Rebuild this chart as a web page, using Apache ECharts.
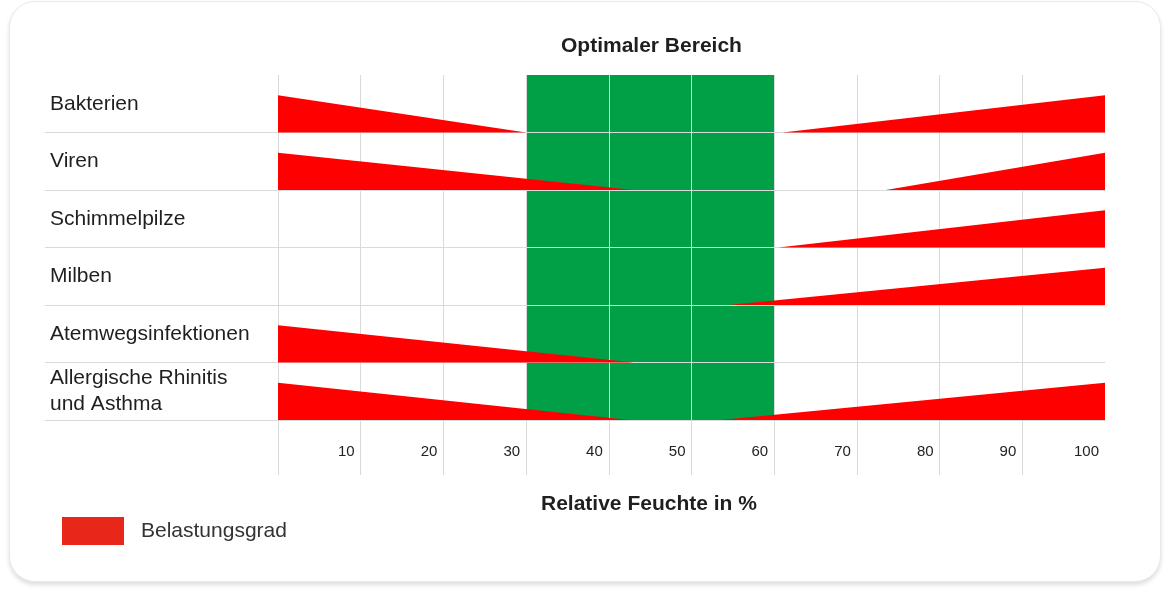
<!DOCTYPE html>
<html>
<head>
<meta charset="utf-8">
<script src="https://cdn.jsdelivr.net/npm/echarts@6/dist/echarts.min.js"></script>
<style>
  html, body { margin: 0; padding: 0; background: #ffffff; }
  #card { position: absolute; left: 9px; top: 1px; width: 1150px; height: 579px;
          border-radius: 26px; border: 1px solid #e9e9e9; background: #fff;
          box-shadow: 0 3px 4px rgba(0,0,0,0.13); }
  #chart { position: absolute; left: 0; top: 0; width: 1170px; height: 600px; }
</style>
</head>
<body>
<div id="card"></div>
<div id="chart"></div>
<script>
// ---- data ----
const rows = ['Bakterien', 'Viren', 'Schimmelpilze', 'Milben', 'Atemwegsinfektionen', 'Allergische Rhinitis\nund Asthma'];
const optimalRange = [30, 60];
// relative humidity (%) where the load from dry air drops to zero (null = none)
const lowLoadEnd = [30, 43, null, null, 43, 42.5];
// relative humidity (%) where the load from humid air starts (null = none)
const highLoadStart = [61, 73.5, 60.5, 54.5, null, 53.5];
const axisName = 'Relative Feuchte in %';
const optimalName = 'Optimaler Bereich';
const legendName = 'Belastungsgrad';

// build triangle items: [xFrom, xTo, rowIndex, loadAtFrom, loadAtTo]
const triangles = [];
rows.forEach((r, i) => {
  if (lowLoadEnd[i] != null) triangles.push([0, lowLoadEnd[i], i, 1, 0]);
  if (highLoadStart[i] != null) triangles.push([highLoadStart[i], 100, i, 0, 1]);
});

const FONT = "'Liberation Sans', Arial, Helvetica, sans-serif";
const GRID_COLOR = '#dadada';
const ROW_FILL = 0.65;

const chart = echarts.init(document.getElementById('chart'), null, { renderer: 'canvas' });
chart.setOption({
  backgroundColor: 'transparent',
  textStyle: { fontFamily: FONT },
  animation: false,
  title: [
    { text: optimalName, left: 561, top: 36, padding: 0,
      textStyle: { fontFamily: FONT, fontSize: 21, fontWeight: 'bold', color: '#1f1f1f' } },
    { text: axisName, left: 541, top: 494, padding: 0,
      textStyle: { fontFamily: FONT, fontSize: 21, fontWeight: 'bold', color: '#1f1f1f' } }
  ],
  legend: {
    left: 62, top: 517, padding: 0, icon: 'rect', itemWidth: 62, itemHeight: 28,
    data: [{ name: legendName, itemStyle: { color: '#e9261a' } }],
    textStyle: { fontFamily: FONT, fontSize: 21, color: '#333', padding: [7, 0, 0, 12] }
  },
  grid: [
    { left: 45, right: 65, top: 75, height: 345 },
    { left: 278, right: 65, top: 75, height: 345 },
    { left: 278, right: 65, top: 420, height: 55 }
  ],
  xAxis: [
    { type: 'value', gridIndex: 0, show: false, min: 0, max: 1 },
    { type: 'value', gridIndex: 1, min: 0, max: 100, interval: 10,
      axisLine: { show: false }, axisTick: { show: false },
      splitLine: { show: true, showMaxLine: false, lineStyle: { color: GRID_COLOR, width: 1 } },
      axisLabel: { showMinLabel: false, align: 'right', padding: [0, 6, 0, 0], margin: 24,
                   fontFamily: FONT, fontSize: 15, color: '#222' } },
    { type: 'value', gridIndex: 2, min: 0, max: 100, interval: 10,
      axisLine: { show: false }, axisTick: { show: false }, axisLabel: { show: false },
      splitLine: { show: true, showMaxLine: false, lineStyle: { color: GRID_COLOR, width: 1 } } }
  ],
  yAxis: [
    { type: 'category', gridIndex: 0, data: rows, inverse: true,
      axisLine: { show: false }, axisTick: { show: false }, splitLine: { show: false },
      axisLabel: { inside: true, margin: 5, fontFamily: FONT, fontSize: 21, lineHeight: 26, color: '#1f1f1f' } },
    { type: 'value', gridIndex: 0, min: 0, max: 6, interval: 1, inverse: true,
      axisLine: { show: false }, axisTick: { show: false }, axisLabel: { show: false },
      splitLine: { show: true, showMinLine: false, lineStyle: { color: GRID_COLOR, width: 1 } } },
    { type: 'value', gridIndex: 1, min: 0, max: 6, inverse: true, show: false },
    { type: 'value', gridIndex: 2, min: 0, max: 1, show: false }
  ],
  series: [
    {
      type: 'custom', name: optimalName, xAxisIndex: 1, yAxisIndex: 2, z: -1,
      data: [optimalRange],
      encode: { x: [0, 1] },
      renderItem: function (params, api) {
        const p0 = api.coord([api.value(0), 0]);
        const p1 = api.coord([api.value(1), 6]);
        return { type: 'rect', shape: { x: p0[0], y: p0[1], width: p1[0] - p0[0], height: p1[1] - p0[1] },
                 style: { fill: '#01a046' } };
      }
    },
    {
      type: 'custom', name: legendName, xAxisIndex: 1, yAxisIndex: 2, z: 5,
      itemStyle: { color: '#ff0000' },
      data: triangles,
      encode: { x: [0, 1], y: 2 },
      renderItem: function (params, api) {
        const x0 = api.value(0), x1 = api.value(1), r = api.value(2);
        const l0 = api.value(3), l1 = api.value(4);
        const base = r + 1;
        const pts = [
          api.coord([x0, base]),
          api.coord([x1, base]),
          api.coord([x1, base - l1 * ROW_FILL]),
          api.coord([x0, base - l0 * ROW_FILL])
        ];
        return { type: 'polygon', shape: { points: pts }, style: { fill: '#ff0000' } };
      }
    }
  ]
});
</script>
</body>
</html>
